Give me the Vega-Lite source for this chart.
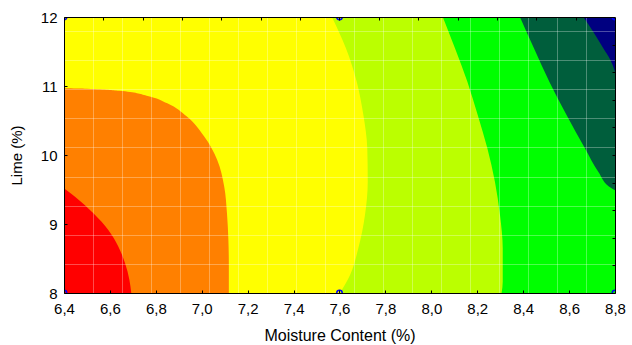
{
  "$schema": "https://vega.github.io/schema/vega-lite/v6.json",
  "width": 551,
  "height": 276,
  "autosize": {"type": "none"},
  "padding": {"left": 64, "top": 17, "right": 17, "bottom": 52},
  "background": "white",
  "config": {
    "view": {"stroke": null},
    "font": "Liberation Sans",
    "axis": {
      "labelFont": "Liberation Sans",
      "titleFont": "Liberation Sans",
      "labelColor": "#000",
      "titleColor": "#000",
      "labelFontSize": 15,
      "titleFontSize": 15,
      "titleFontWeight": "normal",
      "tickColor": "#000",
      "tickWidth": 1,
      "domainColor": "#000",
      "domainWidth": 1,
      "labelOverlap": false,
      "labelFlush": false
    }
  },
  "datasets": {
    "regions": [
      {"region": "yellow", "lime": 8, "xl": 6.4, "xr": 8.8},
      {"region": "yellow", "lime": 12, "xl": 6.4, "xr": 8.8},
      {"region": "orange", "lime": 8.0, "xl": 6.4, "xr": 7.118},
      {"region": "orange", "lime": 8.4, "xl": 6.4, "xr": 7.118},
      {"region": "orange", "lime": 8.77, "xl": 6.4, "xr": 7.116},
      {"region": "orange", "lime": 9.15, "xl": 6.4, "xr": 7.11},
      {"region": "orange", "lime": 9.54, "xl": 6.4, "xr": 7.098},
      {"region": "orange", "lime": 9.93, "xl": 6.4, "xr": 7.067},
      {"region": "orange", "lime": 10.27, "xl": 6.4, "xr": 7.01},
      {"region": "orange", "lime": 10.56, "xl": 6.4, "xr": 6.934},
      {"region": "orange", "lime": 10.75, "xl": 6.4, "xr": 6.85},
      {"region": "orange", "lime": 10.86, "xl": 6.4, "xr": 6.76},
      {"region": "orange", "lime": 10.93, "xl": 6.4, "xr": 6.64},
      {"region": "orange", "lime": 10.96, "xl": 6.4, "xr": 6.5},
      {"region": "orange", "lime": 10.967, "xl": 6.4, "xr": 6.4},
      {"region": "red", "lime": 8.0, "xl": 6.4, "xr": 6.693},
      {"region": "red", "lime": 8.188, "xl": 6.4, "xr": 6.685},
      {"region": "red", "lime": 8.43, "xl": 6.4, "xr": 6.666},
      {"region": "red", "lime": 8.671, "xl": 6.4, "xr": 6.637},
      {"region": "red", "lime": 8.913, "xl": 6.4, "xr": 6.593},
      {"region": "red", "lime": 9.155, "xl": 6.4, "xr": 6.528},
      {"region": "red", "lime": 9.396, "xl": 6.4, "xr": 6.448},
      {"region": "red", "lime": 9.517, "xl": 6.4, "xr": 6.4},
      {"region": "yellowgreen", "lime": 8.0, "xl": 7.602, "xr": 8.8},
      {"region": "yellowgreen", "lime": 8.261, "xl": 7.646, "xr": 8.8},
      {"region": "yellowgreen", "lime": 8.647, "xl": 7.682, "xr": 8.8},
      {"region": "yellowgreen", "lime": 9.13, "xl": 7.711, "xr": 8.8},
      {"region": "yellowgreen", "lime": 9.613, "xl": 7.723, "xr": 8.8},
      {"region": "yellowgreen", "lime": 10.097, "xl": 7.721, "xr": 8.8},
      {"region": "yellowgreen", "lime": 10.58, "xl": 7.704, "xr": 8.8},
      {"region": "yellowgreen", "lime": 11.062, "xl": 7.675, "xr": 8.8},
      {"region": "yellowgreen", "lime": 11.546, "xl": 7.628, "xr": 8.8},
      {"region": "yellowgreen", "lime": 12.0, "xl": 7.567, "xr": 8.8},
      {"region": "green", "lime": 8.0, "xl": 8.306, "xr": 8.8},
      {"region": "green", "lime": 8.164, "xl": 8.311, "xr": 8.8},
      {"region": "green", "lime": 8.647, "xl": 8.311, "xr": 8.8},
      {"region": "green", "lime": 9.13, "xl": 8.299, "xr": 8.8},
      {"region": "green", "lime": 9.613, "xl": 8.277, "xr": 8.8},
      {"region": "green", "lime": 10.097, "xl": 8.244, "xr": 8.8},
      {"region": "green", "lime": 10.58, "xl": 8.202, "xr": 8.8},
      {"region": "green", "lime": 11.062, "xl": 8.157, "xr": 8.8},
      {"region": "green", "lime": 11.546, "xl": 8.103, "xr": 8.8},
      {"region": "green", "lime": 12.0, "xl": 8.05, "xr": 8.8},
      {"region": "darkgreen", "lime": 9.49, "xl": 8.8, "xr": 8.8},
      {"region": "darkgreen", "lime": 9.517, "xl": 8.785, "xr": 8.8},
      {"region": "darkgreen", "lime": 9.758, "xl": 8.727, "xr": 8.8},
      {"region": "darkgreen", "lime": 10.097, "xl": 8.669, "xr": 8.8},
      {"region": "darkgreen", "lime": 10.58, "xl": 8.589, "xr": 8.8},
      {"region": "darkgreen", "lime": 11.062, "xl": 8.514, "xr": 8.8},
      {"region": "darkgreen", "lime": 11.546, "xl": 8.447, "xr": 8.8},
      {"region": "darkgreen", "lime": 12.0, "xl": 8.386, "xr": 8.8},
      {"region": "navy", "lime": 11.207, "xl": 8.8, "xr": 8.8},
      {"region": "navy", "lime": 11.377, "xl": 8.78, "xr": 8.8},
      {"region": "navy", "lime": 11.546, "xl": 8.749, "xr": 8.8},
      {"region": "navy", "lime": 11.787, "xl": 8.705, "xr": 8.8},
      {"region": "navy", "lime": 12.0, "xl": 8.662, "xr": 8.8}
    ],
    "design": [
      {"moisture": 6.4, "lime": 8},
      {"moisture": 6.4, "lime": 12},
      {"moisture": 7.6, "lime": 8},
      {"moisture": 7.6, "lime": 12},
      {"moisture": 8.8, "lime": 8},
      {"moisture": 8.8, "lime": 12}
    ]
  },
  "resolve": {"axis": {"x": "independent", "y": "independent"}},
  "layer": [
    {
      "data": {"name": "regions"},
      "transform": [{"filter": "datum.region === 'yellow'"}],
      "mark": {"type": "area", "orient": "horizontal"},
      "encoding": {
        "y": {"field": "lime", "type": "quantitative", "scale": {"domain": [8, 12], "nice": false, "zero": false},
          "axis": {"orient": "left", "zindex": 1, "values": [8, 9, 10, 11, 12], "format": "d", "ticks": false, "domain": true, "grid": false, "labelPadding": 7, "title": "Lime (%)", "titleAngle": -90, "titleX": -43, "titleY": 138, "titleAlign": "center", "titleBaseline": "alphabetic"}},
        "x": {"field": "xl", "type": "quantitative", "scale": {"domain": [6.4, 8.8], "nice": false, "zero": false},
          "axis": {"orient": "bottom", "zindex": 1, "values": [6.4, 6.6, 6.8, 7.0, 7.2, 7.4, 7.6, 7.8, 8.0, 8.2, 8.4, 8.6, 8.8], "labelExpr": "replace(format(datum.value, '.1f'), '.', ',')", "ticks": false, "domain": true, "grid": false, "labelPadding": 8, "title": "Moisture Content (%)", "titleFontSize": 16, "titleX": 275.5, "titleY": 47, "titleAlign": "center", "titleBaseline": "alphabetic"}},
        "x2": {"field": "xr"},
        "color": {"field": "region", "type": "nominal", "legend": null,
          "scale": {"domain": ["red", "orange", "yellow", "yellowgreen", "green", "darkgreen", "navy"], "range": ["#ff0000", "#ff8000", "#ffff00", "#bbff00", "#00ff00", "#005e3c", "#000080"]}}
      }
    },
    {
      "data": {"name": "regions"},
      "transform": [{"filter": "datum.region === 'orange'"}],
      "mark": {"type": "area", "orient": "horizontal", "interpolate": "monotone"},
      "encoding": {
        "y": {"field": "lime", "type": "quantitative",
          "axis": {"orient": "left", "zindex": 2, "values": [8, 9, 10, 11, 12], "labels": false, "ticks": true, "tickSize": -3, "domain": false, "grid": false, "title": null}},
        "x": {"field": "xl", "type": "quantitative",
          "axis": {"orient": "bottom", "zindex": 2, "values": [6.4, 6.6, 6.8, 7.0, 7.2, 7.4, 7.6, 7.8, 8.0, 8.2, 8.4, 8.6, 8.8], "labels": false, "ticks": true, "tickSize": -3, "domain": false, "grid": false, "title": null}},
        "x2": {"field": "xr"},
        "color": {"field": "region", "type": "nominal", "legend": null}
      }
    },
    {
      "data": {"name": "regions"},
      "transform": [{"filter": "datum.region === 'red'"}],
      "mark": {"type": "area", "orient": "horizontal", "interpolate": "monotone"},
      "encoding": {
        "y": {"field": "lime", "type": "quantitative",
          "axis": {"orient": "right", "zindex": 2, "values": [8.4, 8.8, 9.2, 9.6, 10.0, 10.4, 10.8, 11.2, 11.6], "labels": false, "ticks": true, "tickSize": -3, "domain": true, "grid": false, "title": null}},
        "x": {"field": "xl", "type": "quantitative",
          "axis": {"orient": "top", "zindex": 2, "values": [6.571, 6.743, 6.914, 7.086, 7.257, 7.429, 7.6, 7.771, 7.943, 8.114, 8.286, 8.457, 8.629], "labels": false, "ticks": true, "tickSize": -3, "domain": true, "grid": false, "title": null}},
        "x2": {"field": "xr"},
        "color": {"field": "region", "type": "nominal", "legend": null}
      }
    },
    {
      "data": {"name": "regions"},
      "transform": [{"filter": "datum.region === 'yellowgreen'"}],
      "mark": {"type": "area", "orient": "horizontal", "interpolate": "monotone"},
      "encoding": {
        "y": {"field": "lime", "type": "quantitative",
          "axis": {"orient": "left", "zindex": 1, "values": [8.42, 8.84, 9.26, 9.68, 10.11, 10.53, 10.95, 11.37, 11.79], "labels": false, "ticks": false, "domain": false, "grid": true, "gridColor": "#ffffff", "gridOpacity": 0.3, "gridWidth": 1, "title": null}},
        "x": {"field": "xl", "type": "quantitative",
          "axis": {"orient": "bottom", "zindex": 1, "values": [6.526, 6.653, 6.779, 6.905, 7.032, 7.158, 7.284, 7.411, 7.537, 7.663, 7.789, 7.916, 8.042, 8.168, 8.295, 8.421, 8.547, 8.674], "labels": false, "ticks": false, "domain": false, "grid": true, "gridColor": "#ffffff", "gridOpacity": 0.3, "gridWidth": 1, "title": null}},
        "x2": {"field": "xr"},
        "color": {"field": "region", "type": "nominal", "legend": null}
      }
    },
    {
      "data": {"name": "regions"},
      "transform": [{"filter": "datum.region === 'green'"}],
      "mark": {"type": "area", "orient": "horizontal", "interpolate": "monotone"},
      "encoding": {
        "y": {"field": "lime", "type": "quantitative", "axis": null},
        "x": {"field": "xl", "type": "quantitative", "axis": null},
        "x2": {"field": "xr"},
        "color": {"field": "region", "type": "nominal", "legend": null}
      }
    },
    {
      "data": {"name": "regions"},
      "transform": [{"filter": "datum.region === 'darkgreen'"}],
      "mark": {"type": "area", "orient": "horizontal", "interpolate": "monotone"},
      "encoding": {
        "y": {"field": "lime", "type": "quantitative", "axis": null},
        "x": {"field": "xl", "type": "quantitative", "axis": null},
        "x2": {"field": "xr"},
        "color": {"field": "region", "type": "nominal", "legend": null}
      }
    },
    {
      "data": {"name": "regions"},
      "transform": [{"filter": "datum.region === 'navy'"}],
      "mark": {"type": "area", "orient": "horizontal", "interpolate": "monotone"},
      "encoding": {
        "y": {"field": "lime", "type": "quantitative", "axis": null},
        "x": {"field": "xl", "type": "quantitative", "axis": null},
        "x2": {"field": "xr"},
        "color": {"field": "region", "type": "nominal", "legend": null}
      }
    },
    {
      "data": {"name": "design"},
      "mark": {"type": "point", "shape": "circle", "filled": false, "stroke": "#0000ff", "color": "#0000ff", "opacity": 1, "size": 30, "strokeWidth": 1.5, "clip": true},
      "encoding": {
        "y": {"field": "lime", "type": "quantitative", "axis": null},
        "x": {"field": "moisture", "type": "quantitative", "axis": null}
      }
    }
  ]
}
